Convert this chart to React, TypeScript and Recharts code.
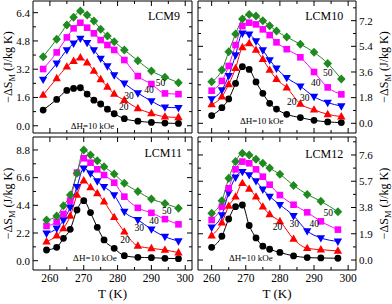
import React from 'react';
import { LineChart, Line, XAxis, YAxis, ReferenceDot } from 'recharts';

// ---------------- data ----------------
const FIELDS = ['10', '20', '30', '40', '50'];

const T_LCM9 = [258, 262, 265, 267, 269, 271, 273, 275, 277, 279, 282, 286, 290, 294, 298];
const LCM9_10 = [0.89, 1.49, 2.0, 2.11, 2.15, 1.79, 1.45, 1.23, 0.94, 0.68, 0.4, 0.26, 0.19, 0.15, 0.13];
const LCM9_20 = [1.74, 2.68, 3.34, 3.66, 3.85, 3.57, 3.1, 2.62, 2.2, 1.8, 1.45, 0.98, 0.7, 0.51, 0.47];
const LCM9_30 = [2.62, 3.53, 4.29, 4.66, 4.94, 4.7, 4.29, 3.81, 3.38, 2.87, 2.4, 1.85, 1.4, 1.05, 1.02];
const LCM9_40 = [3.21, 4.15, 5.0, 5.51, 5.83, 5.55, 5.23, 4.85, 4.57, 4.29, 3.72, 2.81, 2.36, 1.83, 1.79];
const LCM9_50 = [3.91, 4.89, 5.7, 6.14, 6.49, 6.27, 5.93, 5.46, 5.08, 4.76, 4.29, 3.68, 3.1, 2.75, 2.44];

const T_LCM10 = [260, 263, 265, 267, 269, 271, 273, 275, 277, 279, 282, 286, 290, 294, 298];
const LCM10_10 = [0.54, 1.1, 1.71, 2.8, 3.97, 3.78, 2.9, 2.1, 1.4, 1.0, 0.63, 0.4, 0.21, 0.1, 0.05];
const LCM10_20 = [1.33, 1.87, 2.73, 3.86, 5.33, 5.61, 5.14, 4.49, 3.74, 3.1, 2.5, 1.36, 0.95, 0.63, 0.47];
const LCM10_30 = [1.71, 2.34, 3.34, 4.79, 6.31, 6.24, 5.77, 5.14, 4.44, 3.86, 3.2, 2.6, 1.87, 1.45, 1.21];
const LCM10_40 = [2.29, 2.97, 4.02, 5.49, 6.82, 7.06, 6.94, 6.59, 6.19, 5.68, 5.2, 4.63, 3.6, 2.52, 2.03];
const LCM10_50 = [2.92, 3.74, 5.02, 6.26, 7.31, 7.64, 7.52, 7.2, 6.85, 6.47, 6.05, 5.55, 4.98, 4.2, 3.1];

const T_LCM11 = [259, 262, 264, 266, 268, 270, 272, 274, 276, 279, 282, 286, 290, 294, 298];
const LCM11_10 = [0.85, 1.06, 1.78, 2.49, 4.03, 4.77, 3.82, 2.65, 1.65, 0.98, 0.4, 0.27, 0.24, 0.19, 0.16];
const LCM11_20 = [1.51, 1.99, 2.57, 3.55, 5.22, 6.36, 5.83, 5.35, 4.69, 3.45, 2.3, 1.17, 0.98, 0.85, 0.64];
const LCM11_30 = [2.17, 2.57, 3.23, 4.24, 5.88, 7.34, 6.94, 6.33, 5.88, 5.22, 3.9, 3.25, 2.5, 1.91, 1.56];
const LCM11_40 = [2.76, 3.1, 3.71, 4.77, 7.0, 8.14, 7.79, 7.26, 6.81, 6.2, 5.09, 4.2, 3.8, 3.3, 2.89];
const LCM11_50 = [3.23, 3.55, 4.37, 5.22, 6.94, 8.8, 8.4, 7.95, 7.47, 6.89, 6.15, 5.5, 4.9, 4.55, 4.16];

const T_LCM12 = [260, 263, 265, 267, 269, 271, 273, 275, 277, 280, 284, 288, 292, 297];
const LCM12_10 = [0.92, 1.72, 2.97, 3.86, 3.98, 2.5, 1.6, 1.0, 0.78, 0.55, 0.3, 0.18, 0.15, 0.13];
const LCM12_20 = [1.76, 2.7, 3.91, 4.58, 5.55, 5.14, 4.58, 3.85, 3.3, 2.8, 1.52, 0.85, 0.75, 0.66];
const LCM12_30 = [2.36, 3.26, 4.87, 5.98, 6.39, 6.15, 5.72, 5.11, 4.6, 4.0, 3.2, 2.1, 1.6, 1.35];
const LCM12_40 = [2.9, 3.86, 5.19, 6.56, 7.12, 7.0, 6.56, 6.03, 5.45, 4.7, 4.0, 3.45, 2.8, 2.2];
const LCM12_50 = [3.38, 4.29, 5.91, 7.12, 7.72, 7.6, 7.29, 7.0, 6.65, 6.2, 5.4, 4.75, 4.25, 3.5];

const X_TICKS = [260, 265, 270, 275, 280, 285, 290, 295, 300];

const Y_MAJOR_LCM9 = [0, 1.6, 3.2, 4.8, 6.4];
const Y_MINOR_LCM9 = [0.8, 2.4, 4.0, 5.6];
const Y_MAJOR_LCM10 = [0, 1.8, 3.6, 5.4, 7.2];
const Y_MINOR_LCM10 = [0.9, 2.7, 4.5, 6.3, 8.1];
const Y_MAJOR_LCM11 = [0, 2.2, 4.4, 6.6, 8.8];
const Y_MINOR_LCM11 = [1.1, 3.3, 5.5, 7.7];
const Y_MAJOR_LCM12 = [0, 1.9, 3.8, 5.7, 7.6];
const Y_MINOR_LCM12 = [0.95, 2.85, 4.75, 6.65, 8.55];

// annotation anchors (data coordinates): [T, value, text, fontSize]
const NOTES_LCM9: [number, number, string, number][] = [
  [293.7, 6.2, 'LCM9', 12],
  [292.7, 2.45, '50', 9.5], [289.3, 2.05, '40', 9.5], [283.4, 1.68, '30', 9.5], [281.8, 1.1, '20', 9.5],
  [272.6, -0.02, 'ΔH=10 kOe', 9],
];
const NOTES_LCM10: [number, number, string, number][] = [
  [293.0, 7.55, 'LCM10', 12],
  [294, 3.55, '50', 9.5], [290.5, 2.85, '40', 9.5], [287.3, 1.8, '30', 9.5], [283.5, 1.5, '20', 9.5],
  [274.7, 0.19, 'ΔH=10 kOe', 9],
];
const NOTES_LCM11: [number, number, string, number][] = [
  [293.5, 8.55, 'LCM11', 12],
  [294.5, 3.95, '50', 9.5], [290.8, 3.15, '40', 9.5], [286.4, 2.6, '30', 9.5], [282.2, 1.65, '20', 9.5],
  [273.3, 0.19, 'ΔH=10 kOe', 9],
];
const NOTES_LCM12: [number, number, string, number][] = [
  [293.0, 7.7, 'LCM12', 12],
  [294.2, 3.4, '50', 9.5], [290.1, 2.6, '40', 9.5], [284.2, 2.6, '30', 9.5], [279.3, 2.4, '20', 9.5],
  [271.5, 0.19, 'ΔH=10 kOe', 9],
];

// ---------------- styles ----------------
const FONT = '"Liberation Serif", "Times New Roman", serif';
const COLORS = ['#000000', '#ff0000', '#0000ff', '#ff00ff', '#1f8a1f'];
const SHAPES = ['circle', 'up', 'down', 'square', 'diamond'];
const W = 392;
const H = 304;

type Panel = {
  name: string;
  T: number[];
  series: number[][];
  xDomain: [number, number];
  yDomain: [number, number];
  yMajor: number[];
  yMinor: number[];
  box: { l: number; t: number; r: number; b: number };
  ySide: 'left' | 'right';
  showX: boolean;
  notes: [number, number, string, number][];
};

const PANELS: Panel[] = [
  {
    name: 'LCM9', T: T_LCM9, series: [LCM9_10, LCM9_20, LCM9_30, LCM9_40, LCM9_50],
    xDomain: [255, 302], yDomain: [-0.41, 7.06], yMajor: Y_MAJOR_LCM9, yMinor: Y_MINOR_LCM9,
    box: { l: 33, t: 1, r: 192, b: 133 }, ySide: 'left', showX: false, notes: NOTES_LCM9,
  },
  {
    name: 'LCM10', T: T_LCM10, series: [LCM10_10, LCM10_20, LCM10_30, LCM10_40, LCM10_50],
    xDomain: [256, 302.3], yDomain: [-0.68, 8.58], yMajor: Y_MAJOR_LCM10, yMinor: Y_MINOR_LCM10,
    box: { l: 198, t: 1, r: 356, b: 133 }, ySide: 'right', showX: false, notes: NOTES_LCM10,
  },
  {
    name: 'LCM11', T: T_LCM11, series: [LCM11_10, LCM11_20, LCM11_30, LCM11_40, LCM11_50],
    xDomain: [255, 302], yDomain: [-0.74, 9.83], yMajor: Y_MAJOR_LCM11, yMinor: Y_MINOR_LCM11,
    box: { l: 33, t: 137, r: 192, b: 270 }, ySide: 'left', showX: true, notes: NOTES_LCM11,
  },
  {
    name: 'LCM12', T: T_LCM12, series: [LCM12_10, LCM12_20, LCM12_30, LCM12_40, LCM12_50],
    xDomain: [256, 302.3], yDomain: [-0.72, 8.9], yMajor: Y_MAJOR_LCM12, yMinor: Y_MINOR_LCM12,
    box: { l: 198, t: 137, r: 356, b: 270 }, ySide: 'right', showX: true, notes: NOTES_LCM12,
  },
];

const makeDot = (shape: string, color: string) => (props: any) => {
  const { cx, cy, index } = props;
  const k = `d${index}`;
  if (cx == null || cy == null || Number.isNaN(cx) || Number.isNaN(cy)) return <g key={k} />;
  switch (shape) {
    case 'circle':
      return <circle key={k} cx={cx} cy={cy} r={3.4} fill={color} />;
    case 'up':
      return <polygon key={k} points={`${cx},${cy - 4.6} ${cx + 4.2},${cy + 2.8} ${cx - 4.2},${cy + 2.8}`} fill={color} />;
    case 'down':
      return <polygon key={k} points={`${cx},${cy + 4.6} ${cx + 4.2},${cy - 2.8} ${cx - 4.2},${cy - 2.8}`} fill={color} />;
    case 'square':
      return <rect key={k} x={cx - 3.3} y={cy - 3.3} width={6.6} height={6.6} fill={color} />;
    default:
      return <polygon key={k} points={`${cx},${cy - 4.5} ${cx + 4.3},${cy} ${cx},${cy + 4.5} ${cx - 4.3},${cy}`} fill={color} />;
  }
};

const XTick = (props: any) => {
  const { x, y, payload, show, side } = props;
  const v = payload.value;
  const major = Math.abs(v % 10) < 1e-6;
  const len = major ? 5 : 3;
  const dir = side === 'bottom' ? -1 : 1;
  return (
    <g>
      <line x1={x} x2={x} y1={y} y2={y + dir * len} stroke="#000" strokeWidth={1} />
      {show && major && (
        <text x={x} y={y + 11.5} textAnchor="middle" fontSize={11.5} fontFamily={FONT} fill="#000">
          {v}
        </text>
      )}
    </g>
  );
};

const YTick = (props: any) => {
  const { x, y, payload, show, side, majors } = props;
  const v = payload.value;
  const major = majors.some((m: number) => Math.abs(m - v) < 1e-6);
  const len = major ? 5 : 3;
  const dir = side === 'left' ? 1 : -1;
  return (
    <g>
      <line x1={x} x2={x + dir * len} y1={y} y2={y} stroke="#000" strokeWidth={1} />
      {show && major && (
        <text
          x={x - dir * 3}
          y={y}
          dy="0.35em"
          textAnchor={side === 'left' ? 'end' : 'start'}
          fontSize={11}
          fontFamily={FONT}
          fill="#000"
        >
          {v.toFixed(1)}
        </text>
      )}
    </g>
  );
};

const YTitle = ({ cx, cy }: { cx: number; cy: number }) => (
  <text
    x={cx}
    y={cy}
    dy="0.35em"
    textAnchor="middle"
    transform={`rotate(-90, ${cx}, ${cy})`}
    fontSize={12}
    fontFamily={FONT}
    fill="#000"
  >
    <tspan>−ΔS</tspan>
    <tspan dy={3} fontSize={8.5}>M</tspan>
    <tspan dy={-3}> (J/kg K)</tspan>
  </text>
);

const noteLabel = (text: string, size: number) => (lp: any) => {
  const vb = lp.viewBox || {};
  const cx = (vb.x ?? 0) + (vb.width ?? 0) / 2;
  const cy = (vb.y ?? 0) + (vb.height ?? 0) / 2;
  return (
    <text x={cx} y={cy} dy="0.35em" textAnchor="middle" fontSize={size} fontFamily={FONT} fill="#000">
      {text}
    </text>
  );
};

function PanelChart({ p }: { p: Panel }) {
  const rows = p.T.map((t, i) => {
    const r: any = { T: t };
    FIELDS.forEach((f, j) => {
      r['s' + f] = p.series[j][i];
    });
    return r;
  });
  const leftW = p.box.l;
  const rightW = W - p.box.r;
  const topH = p.box.t;
  const botH = H - p.box.b;
  const yTicks = [...p.yMajor, ...p.yMinor].sort((a, b) => a - b);
  const mainY = p.ySide === 'left' ? 'yl' : 'yr';
  const midY = (p.box.t + p.box.b) / 2;
  const midX = (p.box.l + p.box.r) / 2;
  return (
    <div style={{ position: 'absolute', left: 0, top: 0, width: W, height: H }}>
      <LineChart width={W} height={H} data={rows} margin={{ top: 0, right: 0, bottom: 0, left: 0 }}>
        <XAxis
          xAxisId="xb"
          dataKey="T"
          type="number"
          orientation="bottom"
          domain={p.xDomain}
          allowDataOverflow
          ticks={X_TICKS}
          interval={0}
          height={botH}
          tickSize={0}
          tickMargin={0}
          tickLine={false}
          axisLine={{ stroke: '#000', strokeWidth: 1 }}
          tick={(tp: any) => <XTick {...tp} show={p.showX} side="bottom" />}
          label={
            p.showX
              ? () => (
                  <text x={midX} y={p.box.b + 28} textAnchor="middle" fontSize={13} fontFamily={FONT} fill="#000">
                    T (K)
                  </text>
                )
              : undefined
          }
        />
        <XAxis
          xAxisId="xt"
          dataKey="T"
          type="number"
          orientation="top"
          domain={p.xDomain}
          allowDataOverflow
          ticks={X_TICKS}
          interval={0}
          height={topH}
          tickSize={0}
          tickMargin={0}
          tickLine={false}
          axisLine={{ stroke: '#000', strokeWidth: 1 }}
          tick={(tp: any) => <XTick {...tp} show={false} side="top" />}
        />
        <YAxis
          yAxisId="yl"
          type="number"
          orientation="left"
          domain={p.yDomain}
          allowDataOverflow
          ticks={yTicks}
          interval={0}
          width={leftW}
          tickSize={0}
          tickMargin={0}
          tickLine={false}
          axisLine={{ stroke: '#000', strokeWidth: 1 }}
          tick={(tp: any) => <YTick {...tp} show={p.ySide === 'left'} side="left" majors={p.yMajor} />}
          label={p.ySide === 'left' ? () => <YTitle cx={p.box.l - 25} cy={midY} /> : undefined}
        />
        <YAxis
          yAxisId="yr"
          type="number"
          orientation="right"
          domain={p.yDomain}
          allowDataOverflow
          ticks={yTicks}
          interval={0}
          width={rightW}
          tickSize={0}
          tickMargin={0}
          tickLine={false}
          axisLine={{ stroke: '#000', strokeWidth: 1 }}
          tick={(tp: any) => <YTick {...tp} show={p.ySide === 'right'} side="right" majors={p.yMajor} />}
          label={p.ySide === 'right' ? () => <YTitle cx={p.box.r + 28} cy={midY} /> : undefined}
        />
        {FIELDS.map((f, j) => (
          <Line
            key={f}
            xAxisId="xb"
            yAxisId={mainY}
            dataKey={'s' + f}
            type="monotone"
            stroke={COLORS[j]}
            strokeWidth={1}
            dot={makeDot(SHAPES[j], COLORS[j])}
            activeDot={false}
            isAnimationActive={false}
          />
        ))}
        {p.notes.map(([t, v, text, size], i) => (
          <ReferenceDot
            key={'n' + i}
            xAxisId="xb"
            yAxisId={mainY}
            x={t}
            y={v}
            r={0}
            fill="none"
            stroke="none"
            label={noteLabel(text, size)}
          />
        ))}
      </LineChart>
    </div>
  );
}

export default function App() {
  return (
    <div style={{ position: 'fixed', left: 0, top: 0, width: W, height: H, background: '#fff', overflow: 'hidden' }}>
      {PANELS.map((p) => (
        <PanelChart key={p.name} p={p} />
      ))}
    </div>
  );
}
